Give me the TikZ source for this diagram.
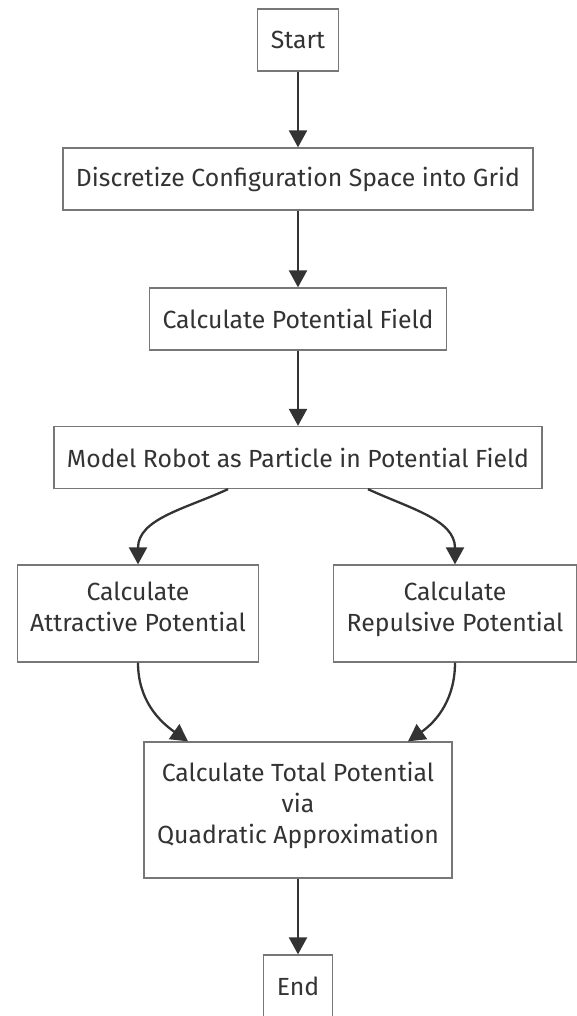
\documentclass[tikz,border=0pt]{standalone}
\usepackage{fontspec}
\setmainfont{Fira Sans}
\usepackage{tikz}
\usetikzlibrary{shapes,arrows,arrows.meta}
\definecolor{linecol}{HTML}{333333}
\definecolor{boxcol}{HTML}{777777}
\definecolor{textcol}{HTML}{333333}
\tikzstyle{block} = [draw=boxcol, line width=1.3pt, fill=white, text=textcol, align=center, inner xsep=13pt, minimum height=62pt, font=\fontsize{24.8}{31}\selectfont]
\tikzstyle{tallblock} = [block, text depth=14pt]
\tikzstyle{line} = [draw=linecol, line width=2.3pt, -{Triangle[length=17pt,width=18pt]}]

\begin{document}
\begin{tikzpicture}[auto]
		\useasboundingbox (0,0) rectangle (576pt,-1016pt);
		\node [block] (start) at (298pt,-40pt) {Start};
		\node [block, below of=start, node distance=139pt] (grid) {Discretize Configuration Space into Grid};
		\node [block, below of=grid, node distance=140pt] (field) {Calculate Potential Field};
		\node [block, below of=field, node distance=138.5pt] (model) {Model Robot as Particle in Potential Field};
		\node [tallblock, below of=model, node distance=156pt, xshift=-160pt, minimum height=97pt] (attr) {Calculate\\Attractive Potential};
		\node [tallblock, below of=model, node distance=156pt, xshift=157pt, minimum height=97pt] (rep) {Calculate\\Repulsive Potential};
		\node [tallblock, below of=model, node distance=352.5pt, minimum height=136pt] (total) {Calculate Total Potential\\via\\Quadratic Approximation};
		\node [block, below of=total, node distance=176pt] (end) {End};
		
		
		\draw [line] (start) -- (grid);
		\draw [line] (grid) -- (field);
		\draw [line] (field) -- (model);
		\draw [line] ([xshift=-70pt]model.south) to[out=-155,in=90] (attr.north);
		\draw [line] ([xshift=70pt]model.south) to[out=-25,in=90] (rep.north);
		\draw [line] (attr.south) to[out=-90,in=145] ([xshift=-110pt]total.north);
		\draw [line] (rep.south) to[out=-90,in=35] ([xshift=110pt]total.north);
		\draw [line] (total) -- (end);
		
		
		\end{tikzpicture}
\end{document}
